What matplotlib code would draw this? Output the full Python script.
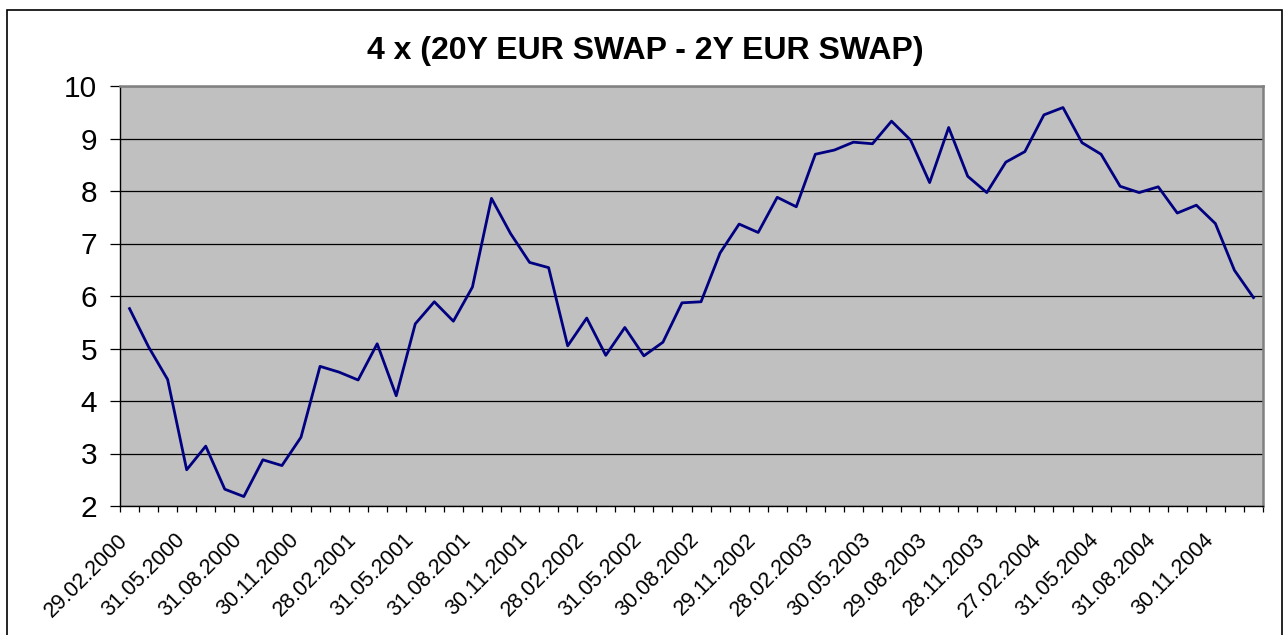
import numpy as np
import matplotlib
matplotlib.use("Agg")
import matplotlib.pyplot as plt
from matplotlib.patches import Rectangle
from matplotlib.transforms import ScaledTranslation

plt.rcParams['font.family'] = ['Liberation Sans', 'DejaVu Sans']

#-------------------------------Data-------------------------------------------
title = "4 x (20Y EUR SWAP - 2Y EUR SWAP)"

# monthly values, Feb 2000 .. Jan 2005
spread = [5.76, 5.03, 4.41, 2.69, 3.14, 2.32, 2.18, 2.88, 2.77, 3.31,
          4.66, 4.55, 4.40, 5.09, 4.10, 5.47, 5.89, 5.52, 6.17, 7.86,
          7.19, 6.64, 6.54, 5.05, 5.58, 4.87, 5.40, 4.86, 5.12, 5.87,
          5.89, 6.82, 7.37, 7.21, 7.88, 7.70, 8.70, 8.78, 8.93, 8.90,
          9.33, 8.97, 8.16, 9.21, 8.28, 7.97, 8.55, 8.75, 9.45, 9.59,
          8.92, 8.70, 8.09, 7.97, 8.08, 7.58, 7.73, 7.38, 6.49, 5.97]

date_labels = ["29.02.2000", "31.05.2000", "31.08.2000", "30.11.2000",
               "28.02.2001", "31.05.2001", "31.08.2001", "30.11.2001",
               "28.02.2002", "31.05.2002", "30.08.2002", "29.11.2002",
               "28.02.2003", "30.05.2003", "29.08.2003", "28.11.2003",
               "27.02.2004", "31.05.2004", "31.08.2004", "30.11.2004"]
label_step = 3

y_ticks = [2, 3, 4, 5, 6, 7, 8, 9, 10]

#-------------------------------Figure-----------------------------------------
fig = plt.figure(figsize=(12.85, 6.35), dpi=100)
ax = fig.add_axes([120 / 1285, 129 / 635, 1143 / 1285, 420 / 635])

# chart area border
fig.patches.append(Rectangle((7 / 1285, -0.05), 1275 / 1285, 1.05 - 10 / 635,
                             transform=fig.transFigure, fill=False,
                             edgecolor='black', linewidth=1.2))

x = np.arange(len(spread))
ax.set_facecolor('#c0c0c0')
ax.plot(x, spread, color='#000080', linewidth=2.0, zorder=3)

ax.set_xlim(-0.5, len(spread) - 0.5)
ax.set_ylim(2, 10)

ax.set_yticks(y_ticks)
ax.set_yticklabels([str(v) for v in y_ticks], fontsize=21.5)
ax.grid(axis='y', color='black', linewidth=0.9)
ax.set_axisbelow(True)
ax.tick_params(axis='y', direction='out', length=7.5, width=0.9, pad=9)

pos = [i * label_step - 0.5 for i in range(len(date_labels))]
ax.set_xticks(pos)
ax.set_xticklabels(date_labels, fontsize=15.5, rotation=45, ha='right',
                   va='top', rotation_mode='anchor')
ax.set_xticks(np.arange(-0.5, len(spread), 1), minor=True)
ax.tick_params(axis='x', which='both', direction='out', length=4, width=0.9)
ax.tick_params(axis='x', which='major', pad=13)
shift = ScaledTranslation(-3 / 100, 0, fig.dpi_scale_trans)
for lab in ax.get_xticklabels():
    lab.set_transform(lab.get_transform() + shift)

for s in ['top', 'right']:
    ax.spines[s].set_color('#808080')
    ax.spines[s].set_linewidth(1.8)
for s in ['left', 'bottom']:
    ax.spines[s].set_color('black')
    ax.spines[s].set_linewidth(1.0)

fig.text(0.502, 1 - 51 / 635, title, ha='center', va='center',
         fontsize=23, fontweight='bold')

fig.savefig("out.png", dpi=100)
